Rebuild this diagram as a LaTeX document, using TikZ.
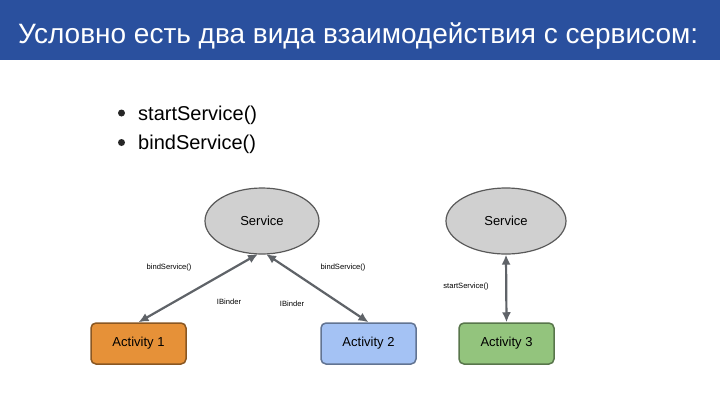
\documentclass[tikz,border=0pt]{standalone}
\usepackage{fontspec}
\setmainfont{Liberation Sans}
\usetikzlibrary{shapes.geometric,arrows.meta}
\definecolor{titlebg}{HTML}{2A509E}
\definecolor{svcfill}{HTML}{D0D0D0}
\definecolor{svcdraw}{HTML}{595959}
\definecolor{orangef}{HTML}{E69138}
\definecolor{bluef}{HTML}{A4C2F4}
\definecolor{greenf}{HTML}{93C47D}
\definecolor{arrowc}{HTML}{5F6368}
\tikzset{
  svc/.style={ellipse, draw=svcdraw, line width=1.2pt, fill=svcfill, minimum width=114pt, minimum height=66pt, inner sep=0pt, font=\fontsize{13}{15}\selectfont},
  actbox/.style={rectangle, rounded corners=5pt, draw=#1!60!black, line width=1.5pt, minimum width=95pt, minimum height=41pt, inner sep=0pt, font=\fontsize{13}{15}\selectfont},
  conn/.style={draw=arrowc, line width=2.2pt, {Latex[length=10pt,width=9pt]}-{Latex[length=10pt,width=9pt]}},
  lbl/.style={font=\fontsize{7.6}{8}\selectfont, inner sep=0pt},
  bul/.style={circle, fill=black!85, inner sep=0pt, minimum size=7pt},
  btxt/.style={anchor=base west, font=\fontsize{20}{22}\selectfont, inner sep=0pt},
}
\begin{document}
\begin{tikzpicture}[x=1pt,y=-1pt]
\useasboundingbox (0,0) rectangle (720,405);
\fill[white] (0,0) rectangle (720,405);
\fill[titlebg] (0,0) rectangle (720,60);
\node[anchor=base west, text=white, font=\fontsize{28}{32}\selectfont, inner sep=0pt] (title) at (18,43) {Условно есть два вида взаимодействия с сервисом:};
\node[bul] (d1) at (121.5,113) {};
\node[btxt] (b1) at (138,120) {startService()};
\node[bul] (d2) at (121.5,142.5) {};
\node[btxt] (b2) at (138,149.5) {bindService()};

\node[svc] (s1) at (262,221) {Service};
\node[svc, minimum width=120pt] (s2) at (506,221) {Service};

\node[actbox=orangef, fill=orangef] (a1) at (138.5,343.5) {Activity 1};
\node[actbox=bluef, fill=bluef] (a2) at (368.5,343.5) {Activity 2};
\node[actbox=greenf, fill=greenf] (a3) at (506.5,343.5) {Activity 3};

\coordinate (s1l) at (258,254);
\coordinate (s1r) at (266,254);
\draw[conn] (s1l) -- (a1.north);
\draw[conn] (s1r) -- (a2.north);
\draw[conn] (s2.south) -- (a3.north);

\node[lbl] (l1) at (169,268) {bindService()};
\node[lbl] (l2) at (343,268) {bindService()};
\node[lbl] (l3) at (229,302) {IBinder};
\node[lbl] (l4) at (292,304) {IBinder};
\node[lbl] (l5) at (466,287) {startService()};
\end{tikzpicture}
\end{document}
